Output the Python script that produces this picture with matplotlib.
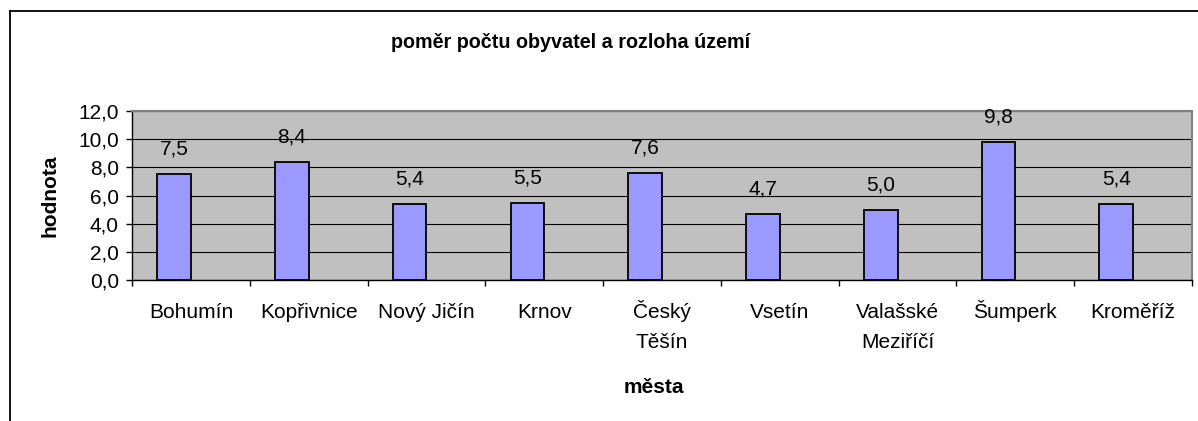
import numpy as np
import matplotlib.pyplot as plt
from matplotlib.lines import Line2D

plt.rcParams['font.family'] = ['Liberation Sans', 'DejaVu Sans']

# data
cities = ['Bohumín', 'Kopřivnice', 'Nový Jičín', 'Krnov', 'Český\nTěšín',
          'Vsetín', 'Valašské\nMeziříčí', 'Šumperk', 'Kroměříž']
values = [7.5, 8.4, 5.4, 5.5, 7.6, 4.7, 5.0, 9.8, 5.4]
y_ticks = [0, 2, 4, 6, 8, 10, 12]

W, H = 1198, 421
fig = plt.figure(figsize=(W / 100, H / 100), dpi=100)
fig.patch.set_facecolor('white')

# plot area in pixels: left 132, right 1192, top 111, bottom 280
ax = fig.add_axes([132 / W, 1 - 280 / H, (1192 - 132) / W, (280 - 111) / H])
ax.set_facecolor('#C0C0C0')

x = np.arange(len(cities))
bar_w = 1 / 3.5
ax.bar(x - 0.143, values, width=bar_w, color='#9999FF', edgecolor='black',
       linewidth=1.3, zorder=3)

for xi, v in zip(x, values):
    ax.annotate(f'{v:.1f}'.replace('.', ','), (xi - 0.143, v),
                xytext=(0, 18), textcoords='offset points',
                ha='center', va='center', fontsize=15)

ax.set_xlim(-0.5, len(cities) - 0.5)
ax.set_ylim(0, 12)

ax.set_yticks(y_ticks)
ax.set_yticklabels([f'{t:.1f}'.replace('.', ',') for t in y_ticks], fontsize=15)
ax.tick_params(axis='y', direction='out', length=4.5, width=1, pad=5)

# category labels, each line on its own baseline (Š would push a tick label down)
ax.set_xticks(x)
ax.set_xticklabels([])
ax.tick_params(axis='x', length=0)
ax.set_xticks(np.arange(-0.5, len(cities)), minor=True)
ax.tick_params(axis='x', which='minor', direction='out', length=4.5, width=1)
for xi, name in zip(x, cities):
    for j, line in enumerate(name.split('\n')):
        ax.annotate(line, (xi, 0), xycoords=('data', 'axes fraction'),
                    xytext=(0, -(38 + 29.7 * j) * 0.72), textcoords='offset points',
                    ha='center', va='baseline', fontsize=15, annotation_clip=False)

ax.yaxis.grid(True, color='black', linewidth=0.8)
ax.set_axisbelow(True)

for side in ['top', 'right']:
    ax.spines[side].set_color('#808080')
    ax.spines[side].set_linewidth(1.5)
ax.spines['left'].set_linewidth(1)
ax.spines['bottom'].set_linewidth(1)

ax.set_ylabel('hodnota', fontsize=15, fontweight='bold')
ax.yaxis.set_label_coords(-0.068, 0.5)
ax.set_xlabel('města', fontsize=15, fontweight='bold')
ax.xaxis.set_label_coords(0.4925, -0.58)

fig.text(571 / W, 1 - 43 / H, 'poměr počtu obyvatel a rozloha území',
         ha='center', va='center', fontsize=14.2, fontweight='bold')

# outer chart border (cut off at right and bottom)
fig.add_artist(Line2D([10 / W, 1], [1 - 11 / H, 1 - 11 / H], color='black', linewidth=1.3))
fig.add_artist(Line2D([10 / W, 10 / W], [0, 1 - 11 / H], color='black', linewidth=1.3))

fig.savefig('out.png', dpi=100)
